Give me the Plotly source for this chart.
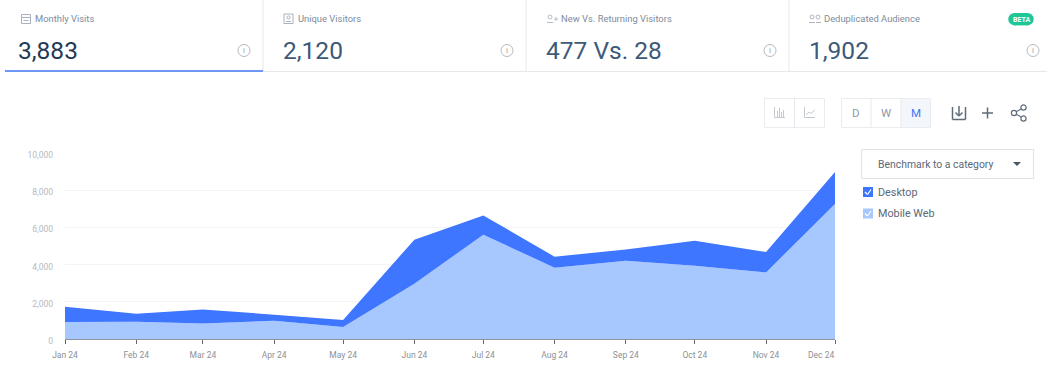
import plotly.graph_objects as go

W, H = 1047, 374
L, R, T, B = 65, 835, 153, 339

months = ["2024-01-01", "2024-02-01", "2024-03-01", "2024-04-01", "2024-05-01", "2024-06-01",
          "2024-07-01", "2024-08-01", "2024-09-01", "2024-10-01", "2024-11-01", "2024-12-01"]
tick_labels = ["Jan 24", "Feb 24", "Mar 24", "Apr 24", "May 24", "Jun 24",
               "Jul 24", "Aug 24", "Sep 24", "Oct 24", "Nov 24", ""]
last_tick_label = "Dec 24"
mobile_web = [913, 930, 838, 984, 645, 2970, 5607, 3833, 4210, 3940, 3580, 7258]
desktop = [824, 430, 752, 322, 375, 2370, 1038, 592, 607, 1345, 1097, 1720]
y_ticks = [0, 2000, 4000, 6000, 8000, 10000]

cards = [("Monthly Visits", "3,883", 35, 18, "#1f3a55"), ("Unique Visitors", "2,120", 298, 283, "#3d5a78"),
         ("New Vs. Returning Visitors", "477 Vs. 28", 561, 546, "#3d5a78"),
         ("Deduplicated Audience", "1,902", 824, 809, "#3d5a78")]
info_x = [244, 507, 770, 1033]
dividers = [263, 526, 789]
BLUE, LIGHT = "#3e76ff", "#a7c8ff"

def px(x): return (x - L) / (R - L)
def py(y): return (B - y) / (B - T)

shapes, ann = [], []
def rect(x0, y0, x1, y1, line="#e9ecf0", fill=None, w=1):
    shapes.append(dict(type="rect", xref="paper", yref="paper", x0=px(x0), x1=px(x1), y0=py(y0), y1=py(y1),
                       line=dict(color=line, width=w) if line else dict(width=0), fillcolor=fill, layer="above"))
def seg(x0, y0, x1, y1, color="#e6e8ec", w=1):
    shapes.append(dict(type="line", xref="paper", yref="paper", x0=px(x0), x1=px(x1), y0=py(y0), y1=py(y1),
                       line=dict(color=color, width=w), layer="above"))
def circ(cx, cy, r, line="#b5b9bf", fill=None, w=1):
    shapes.append(dict(type="circle", xref="paper", yref="paper", x0=px(cx - r), x1=px(cx + r), y0=py(cy - r), y1=py(cy + r),
                       line=dict(color=line, width=w) if line else dict(width=0), fillcolor=fill, layer="above"))
def txt(x, y, s, size, color, anchor="left", family="Roboto"):
    ann.append(dict(x=px(x), y=py(y), xref="paper", yref="paper", text=s, showarrow=False, xanchor=anchor, yanchor="middle",
                    font=dict(size=size, color=color, family=family), borderpad=0, borderwidth=0))

# KPI cards
for x in dividers:
    seg(x, 0, x, 71)
seg(263, 71.5, W, 71.5)
seg(5, 71, 263, 71, "#3f75f5", 1.5)
for (label, val, lx, vx, col), ix in zip(cards, info_x):
    txt(lx, 18.5, label, 9.4, "#7d8b9c")
    txt(vx, 50, val, 24.5, col)
    circ(ix, 50.5, 6)
    txt(ix, 50.5, "i", 8, "#9a9ea5", "center")
# KPI icons
rect(21.5, 14.5, 30.5, 23.5, "#aab2bd")
seg(21.5, 17.5, 30.5, 17.5, "#aab2bd")
seg(23.5, 20.5, 28.5, 20.5, "#aab2bd")
rect(284, 14, 293, 23.5, "#aab2bd")
circ(288.5, 17.5, 1.6, "#aab2bd")
seg(286, 21.5, 291, 21.5, "#aab2bd")
circ(550, 17, 2, "#b8bec6")
seg(547, 22.5, 553, 22.5, "#b8bec6")
seg(554, 19, 558, 19, "#b8bec6"); seg(556, 17, 556, 21, "#b8bec6")
circ(812, 17, 2, "#b0b6be"); circ(818, 17, 2, "#b0b6be")
seg(809, 22.5, 815, 22.5, "#b0b6be"); seg(816, 22.5, 821, 22.5, "#b0b6be")
# BETA pill
circ(1014.5, 19.2, 6.2, None, "#1fc796")
circ(1027.5, 19.2, 6.2, None, "#1fc796")
rect(1014.5, 13, 1027.5, 25.4, None, "#1fc796")
txt(1021, 19.5, "<b>BETA</b>", 7, "#ffffff", "center")

# Toolbar
rect(764.5, 98.5, 824.5, 127.5)
seg(794.5, 98.5, 794.5, 127.5)
rect(841.5, 98.5, 930.5, 127.5)
rect(901, 99, 930, 127, None, "#f3f6fb")
seg(871, 98.5, 871, 127.5); seg(901, 98.5, 901, 127.5)
txt(856, 113, "D", 11.5, "#8e99a8", "center")
txt(886, 113, "W", 11.5, "#8e99a8", "center")
txt(916, 113, "M", 11.5, "#3f75f5", "center")
seg(774.5, 107, 774.5, 117.5, "#c5cad2")
seg(774.5, 117.5, 785, 117.5, "#c5cad2")
for x, h in zip([777, 779, 781, 783], [6, 9, 5, 7]):
    seg(x + 0.5, 117, x + 0.5, 117 - h, "#c5cad2")
seg(804.5, 107, 804.5, 117.5, "#c5cad2"); seg(804.5, 117.5, 815, 117.5, "#c5cad2")
seg(806, 115, 809, 112, "#c5cad2"); seg(809, 112, 811, 113.5, "#c5cad2"); seg(811, 113.5, 815, 110, "#c5cad2")
# download / plus / share
DK = "#5e6b7a"
seg(952.5, 107, 952.5, 119.5, DK, 1.5); seg(952.5, 119.5, 965.5, 119.5, DK, 1.5)
seg(965.5, 119.5, 965.5, 107, DK, 1.5); seg(959, 106, 959, 116, DK, 1.5)
seg(955.5, 112.5, 959, 116, DK, 1.5); seg(962.5, 112.5, 959, 116, DK, 1.5)
seg(982, 113, 993, 113, DK, 1.5); seg(987.5, 107.5, 987.5, 118.5, DK, 1.5)
seg(1014, 113, 1023, 108, DK, 1.2); seg(1014, 113, 1023, 118, DK, 1.2)
circ(1014, 113, 2.6, DK, "#ffffff", 1.2); circ(1023.5, 107.5, 2.6, DK, "#ffffff", 1.2); circ(1023.5, 118.5, 2.6, DK, "#ffffff", 1.2)

# Benchmark dropdown
rect(861.5, 149.5, 1033.5, 178.5, "#dfe3e8")
txt(878, 164, "Benchmark to a category", 10.4, "#5a6878")
shapes.append(dict(type="path", xref="paper", yref="paper", layer="above", line=dict(width=0), fillcolor="#4a5562",
                   path=f"M {px(1013)} {py(162)} L {px(1021)} {py(162)} L {px(1017)} {py(166)} Z"))

# Legend
for y, c, name in [(192, BLUE, "Desktop"), (213.5, LIGHT, "Mobile Web")]:
    rect(863, y - 5, 873, y + 5, None, c)
    seg(865, y, 867.5, y + 2.5, "#ffffff", 1.2); seg(867.5, y + 2.5, 871, y - 2.5, "#ffffff", 1.2)
    txt(878, y, name, 10.8, "#5a6878")

# Final tick label sits inside the plot's right edge in the reference
ann.append(dict(x=1, y=0, xref="paper", yref="paper", text=last_tick_label, showarrow=False, xanchor="right", yanchor="top",
                yshift=-10, font=dict(size=8.5, color="#8c9096", family="Roboto"), borderpad=0))

fig = go.Figure()
fig.add_trace(go.Scatter(x=months, y=mobile_web, name="Mobile Web", stackgroup="a", mode="none", fillcolor=LIGHT))
fig.add_trace(go.Scatter(x=months, y=desktop, name="Desktop", stackgroup="a", mode="none", fillcolor=BLUE))
fig.update_layout(
    width=W, height=H, margin=dict(l=L, r=W - R, t=T, b=H - B), showlegend=False,
    paper_bgcolor="#ffffff", plot_bgcolor="#ffffff", shapes=shapes, annotations=ann,
    font=dict(family="Roboto"), hovermode="x",
    xaxis=dict(type="date", range=[months[0], months[-1]], tickvals=months, ticktext=tick_labels, showgrid=False,
               ticks="outside", ticklen=4, tickcolor="#666666", showline=True, linecolor="#8f959c", linewidth=1,
               tickfont=dict(size=8.5, color="#8c9096"), zeroline=False, ticklabelstandoff=4),
    yaxis=dict(range=[0, 10000], tickvals=y_ticks, tickformat=",d", gridcolor="#f3f4f6", gridwidth=1, zeroline=False,
               ticks="", tickfont=dict(size=8.5, color="#b4b9c0"), ticklabelstandoff=11, ticklabelshift=2),
)
fig.write_html("out.html", config=dict(displayModeBar=False),
               post_script="document.body.style.margin='0';document.documentElement.style.overflow='hidden';")
